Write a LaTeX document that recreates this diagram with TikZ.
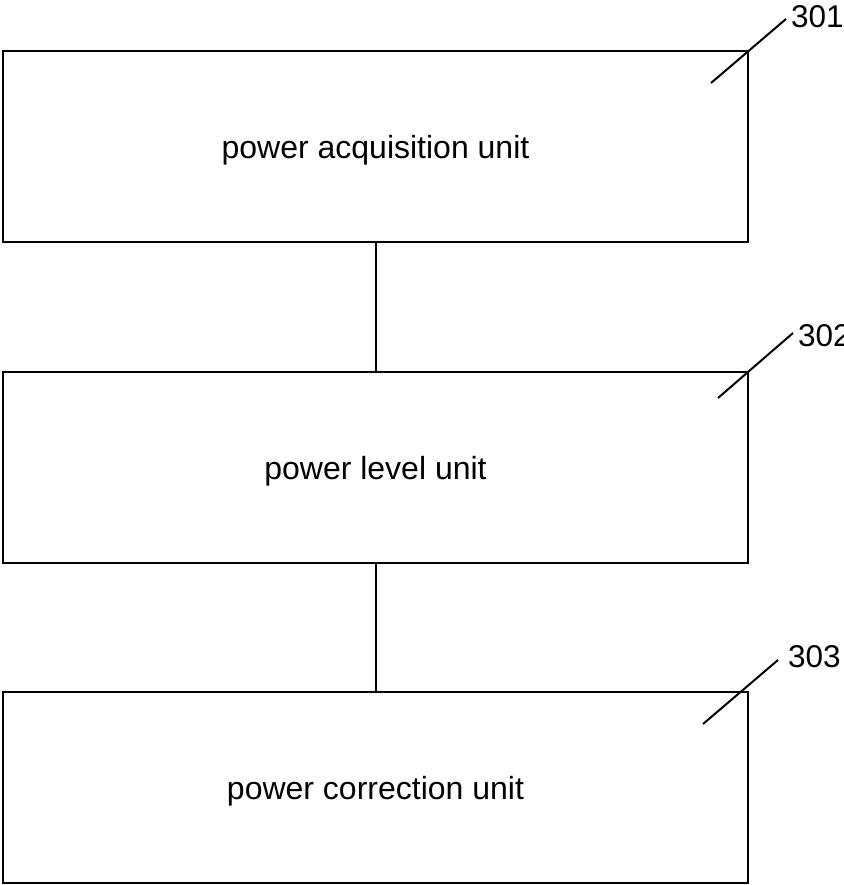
\documentclass[tikz,border=0pt]{standalone}
\usepackage{fontspec}
\setmainfont{Liberation Sans}
\begin{document}
\begin{tikzpicture}[x=1pt, y=-1pt,
  unitbox/.style={draw=black, line width=2.2pt, rectangle, minimum width=745pt, minimum height=191pt, inner sep=0pt, text depth=0pt, font=\fontsize{32}{38}\selectfont},
  link/.style={line width=2pt},
  leader/.style={line width=2pt},
  reflabel/.style={anchor=base west, inner sep=0pt, font=\fontsize{31.5}{36}\selectfont}]
  \useasboundingbox (0,0) rectangle (843,885);
  \clip (0,0) rectangle (843,885);

  % the three units
  \node[unitbox] (acq) at (375.5,146.5) {power acquisition unit};
  \node[unitbox] (lvl) at (375.5,467.5) {power level unit};
  \node[unitbox] (cor) at (375.5,787.5) {power correction unit};

  % vertical links between the units
  \draw[link] (acq.south) -- (lvl.north);
  \draw[link] (lvl.south) -- (cor.north);

  % reference numerals with leader lines
  \coordinate (l1a) at (711,83);  \coordinate (l1b) at (786,19);
  \coordinate (l2a) at (718,398); \coordinate (l2b) at (793,333);
  \coordinate (l3a) at (703,724); \coordinate (l3b) at (778,660);
  \draw[leader] (l1a) -- (l1b);
  \draw[leader] (l2a) -- (l2b);
  \draw[leader] (l3a) -- (l3b);
  \node[reflabel] (n301) at (791,28) {301};
  \node[reflabel] (n302) at (798,346) {302};
  \node[reflabel] (n303) at (788,667) {303};
\end{tikzpicture}
\end{document}
